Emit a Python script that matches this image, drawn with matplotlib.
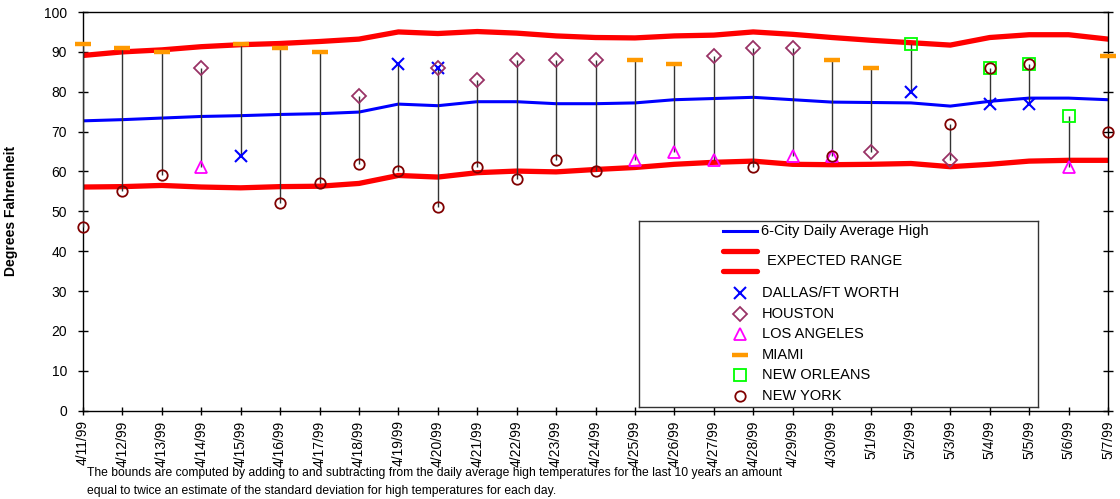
import numpy as np
import matplotlib.pyplot as plt

plt.rcParams['font.family'] = ['Liberation Sans', 'DejaVu Sans']

nan = np.nan

# dates on the x axis
dates = ['4/11/99', '4/12/99', '4/13/99', '4/14/99', '4/15/99', '4/16/99', '4/17/99',
         '4/18/99', '4/19/99', '4/20/99', '4/21/99', '4/22/99', '4/23/99', '4/24/99',
         '4/25/99', '4/26/99', '4/27/99', '4/28/99', '4/29/99', '4/30/99', '5/1/99',
         '5/2/99', '5/3/99', '5/4/99', '5/5/99', '5/6/99', '5/7/99']

# expected range and 6-city average
upper = [89.1, 90.0, 90.5, 91.3, 91.8, 92.1, 92.6, 93.2, 95.0, 94.6, 95.1, 94.7, 94.0, 93.6,
         93.5, 94.0, 94.2, 95.0, 94.4, 93.6, 92.9, 92.3, 91.7, 93.6, 94.3, 94.3, 93.2]
lower = [56.1, 56.2, 56.5, 56.1, 55.9, 56.2, 56.3, 57.0, 59.0, 58.6, 59.7, 60.1, 59.9, 60.5,
         61.0, 61.8, 62.3, 62.6, 61.8, 61.7, 61.8, 62.0, 61.2, 61.8, 62.6, 62.8, 62.8]
avg = [72.7, 73.0, 73.4, 73.8, 74.0, 74.3, 74.5, 74.9, 76.9, 76.5, 77.5, 77.5, 77.0, 77.0,
       77.2, 78.0, 78.3, 78.6, 78.0, 77.4, 77.3, 77.2, 76.4, 77.6, 78.4, 78.4, 78.0]

# city highs (only the day's extremes are shown)
dallas = [nan, nan, nan, nan, 64, nan, nan, nan, 87, 86, nan, nan, nan, nan,
          nan, nan, nan, nan, nan, nan, nan, 80, nan, 77, 77, nan, nan]
houston = [nan, nan, nan, 86, nan, nan, nan, 79, nan, 86, 83, 88, 88, 88,
           nan, nan, 89, 91, 91, nan, 65, nan, 63, nan, nan, nan, nan]
los_angeles = [nan, nan, nan, 61, nan, nan, nan, nan, nan, nan, nan, nan, nan, nan,
               63, 65, 63, nan, 64, 64, nan, nan, nan, nan, nan, 61, nan]
miami = [92, 91, 90, nan, 92, 91, 90, nan, nan, nan, nan, nan, nan, nan,
         88, 87, nan, nan, nan, 88, 86, nan, nan, nan, nan, nan, 89]
new_orleans = [nan, nan, nan, nan, nan, nan, nan, nan, nan, nan, nan, nan, nan, nan,
               nan, nan, nan, nan, nan, nan, nan, 92, nan, 86, 87, 74, nan]
new_york = [46, 55, 59, nan, nan, 52, 57, 62, 60, 51, 61, 58, 63, 60,
            nan, nan, nan, 61, nan, 64, nan, nan, 72, 86, 87, nan, 70]

cities = [
    ('DALLAS/FT WORTH', dallas, dict(marker='x', color='#0000FF', ms=8.5, mew=1.5)),
    ('HOUSTON', houston, dict(marker='D', color='#993366', mfc='none', ms=7.5, mew=1.3)),
    ('LOS ANGELES', los_angeles, dict(marker='^', color='#FF00FF', mfc='none', ms=8, mew=1.3)),
    ('MIAMI', miami, dict(marker='_', color='#FF9900', ms=11, mew=3.2)),
    ('NEW ORLEANS', new_orleans, dict(marker='s', color='#00FF00', mfc='none', ms=8.5, mew=1.3)),
    ('NEW YORK', new_york, dict(marker='o', color='#800000', mfc='none', ms=7.5, mew=1.3)),
]

x = np.arange(len(dates))

fig = plt.figure(figsize=(11.2, 4.99), dpi=100)
ax = fig.add_axes([83 / 1120, 1 - 410.7 / 499, 1025 / 1120, 398.7 / 499])

ax.plot(x, upper, color='#FF0000', lw=3.8, solid_capstyle='round', zorder=2)
ax.plot(x, lower, color='#FF0000', lw=3.8, solid_capstyle='round', zorder=2)
ax.plot(x, avg, color='#0000FF', lw=2.2, zorder=2)

# hi-lo lines between the day's warmest and coolest city
allc = np.array([c[1] for c in cities], dtype=float)
hi = np.nanmax(allc, axis=0)
lo = np.nanmin(allc, axis=0)
ax.vlines(x, lo, hi, color='#333333', lw=1.0, zorder=3)

for name, vals, st in cities:
    ax.plot(x, vals, ls='none', zorder=4, clip_on=False, **st)

ax.set_xlim(0, len(dates) - 1)
ax.set_ylim(0, 100)
ax.set_yticks(range(0, 101, 10))
ax.set_xticks(x)
ax.set_xticklabels(dates, rotation=90, fontsize=10)
ax.tick_params(axis='y', direction='inout', length=7, width=1, pad=8, labelsize=10,
               right=True, labelright=False)
ax.tick_params(axis='x', direction='inout', length=6, width=1, pad=4)
for s in ax.spines.values():
    s.set_linewidth(1)
ax.set_ylabel('Degrees Fahrenheit', fontsize=10, fontweight='bold')
ax.yaxis.set_label_coords(-0.0634, 0.5)

# legend box drawn in pixel coordinates
lg = fig.add_axes([639 / 1120, 1 - 406.7 / 499, 399 / 1120, 186 / 499])
lg.set_xlim(639, 1038)
lg.set_ylim(406.7, 220.7)
lg.set_xticks([])
lg.set_yticks([])
for s in lg.spines.values():
    s.set_linewidth(1)
    s.set_color('#333333')
lg.plot([723, 757], [231, 231], color='#0000FF', lw=2.2)
lg.text(761, 231, '6-City Daily Average High', fontsize=10.5, va='center')
lg.plot([723, 757], [251, 251], color='#FF0000', lw=3.8, solid_capstyle='round')
lg.plot([723, 757], [271, 271], color='#FF0000', lw=3.8, solid_capstyle='round')
lg.text(767, 261, 'EXPECTED RANGE', fontsize=10.5, va='center')
rows = [293.3, 313.7, 334, 354.7, 375, 396]
for (name, vals, st), yy in zip(cities, rows):
    lg.plot([740], [yy], ls='none', **st)
    lg.text(762, yy, name, fontsize=10.5, va='center')

fig.text(87 / 1120, 1 - 473 / 499,
         'The bounds are computed by adding to and subtracting from the daily average '
         'high temperatures for the last 10 years an amount',
         fontsize=8.7, va='center')
fig.text(87 / 1120, 1 - 491 / 499,
         'equal to twice an estimate of the standard deviation for high temperatures for each day.',
         fontsize=8.7, va='center')

fig.savefig('out.png', dpi=100)
